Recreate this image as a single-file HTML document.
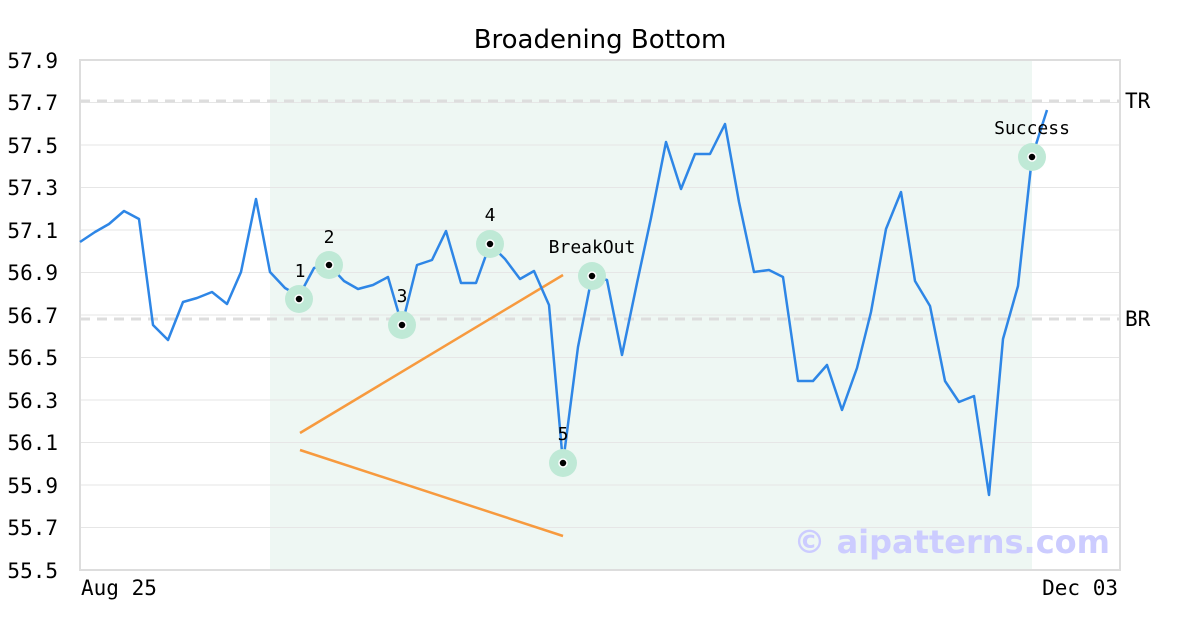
<!DOCTYPE html>
<html><head><meta charset="utf-8"><style>body{margin:0;background:#fff}</style></head><body>
<svg width="1200" height="630" xmlns="http://www.w3.org/2000/svg">
<rect width="1200" height="630" fill="#fff"/>
<rect x="270" y="60" width="762" height="510" fill="#eef7f3"/>
<g stroke="#e6e6e6" stroke-width="1">
<line x1="80" x2="1120" y1="102.5" y2="102.5"/><line x1="80" x2="1120" y1="145" y2="145"/><line x1="80" x2="1120" y1="187.5" y2="187.5"/><line x1="80" x2="1120" y1="230" y2="230"/><line x1="80" x2="1120" y1="272.5" y2="272.5"/><line x1="80" x2="1120" y1="315" y2="315"/><line x1="80" x2="1120" y1="357.5" y2="357.5"/><line x1="80" x2="1120" y1="400" y2="400"/><line x1="80" x2="1120" y1="442.5" y2="442.5"/><line x1="80" x2="1120" y1="485" y2="485"/><line x1="80" x2="1120" y1="527.5" y2="527.5"/>
</g>
<line x1="80" x2="1120" y1="101" y2="101" stroke="#ddd" stroke-width="3" stroke-dasharray="10,7"/>
<line x1="80" x2="1120" y1="319" y2="319" stroke="#ddd" stroke-width="3" stroke-dasharray="10,7"/>
<rect x="80" y="60" width="1040" height="510" fill="none" stroke="#ddd" stroke-width="2"/>
<g stroke="#f79a3e" stroke-width="2.5"><line x1="300" y1="433" x2="563" y2="275"/><line x1="300" y1="450" x2="563" y2="536"/></g>
<polyline fill="none" stroke="#2e86e6" stroke-width="2.5" stroke-linejoin="round" points="80,242 95,232 109,224 124,211 139,219 153,325 168,340 183,302 197,298 212,292 227,304 241,272 256,199 270,272 285,288 299,296 314,268 329,265 344,281 358,289 373,285 388,277 402,325 417,265 432,260 446,231 461,283 476,283 490,244 505,259 520,279 534,271 549,305 563,463 578,347 592,276 607,280 622,355 637,283 651,218 666,142 681,189 695,154 710,154 725,124 739,202 754,272 769,270 783,277 798,381 813,381 827,365 842,410 857,368 871,312 886,229 901,192 915,281 930,306 945,381 959,402 974,396 989,495 1003,339 1018,286 1032,157 1047,110"/>
<g fill="#bfe9d6"><circle cx="299" cy="299" r="14"/><circle cx="329" cy="265" r="14"/><circle cx="402" cy="325" r="14"/><circle cx="490" cy="244" r="14"/><circle cx="563" cy="463" r="14"/><circle cx="592" cy="276" r="14"/><circle cx="1032" cy="157" r="14"/></g>
<g fill="#000" stroke="#fff" stroke-width="1.5"><circle cx="299" cy="299" r="4"/><circle cx="329" cy="265" r="4"/><circle cx="402" cy="325" r="4"/><circle cx="490" cy="244" r="4"/><circle cx="563" cy="463" r="4"/><circle cx="592" cy="276" r="4"/><circle cx="1032" cy="157" r="4"/></g>
<g font-family="DejaVu Sans Mono, Liberation Mono, monospace" font-size="18" fill="#000" text-anchor="middle">
<text x="300" y="277">1</text><text x="329" y="243">2</text><text x="402" y="302">3</text><text x="490" y="221">4</text><text x="563" y="440">5</text><text x="592" y="253">BreakOut</text><text x="1032" y="134">Success</text></g>
<g font-family="DejaVu Sans Mono, Liberation Mono, monospace" font-size="21" fill="#000">
<g text-anchor="end"><text x="58" y="68">57.9</text><text x="58" y="110">57.7</text><text x="58" y="153">57.5</text><text x="58" y="195">57.3</text><text x="58" y="238">57.1</text><text x="58" y="280">56.9</text><text x="58" y="323">56.7</text><text x="58" y="365">56.5</text><text x="58" y="408">56.3</text><text x="58" y="450">56.1</text><text x="58" y="493">55.9</text><text x="58" y="535">55.7</text><text x="58" y="578">55.5</text></g>
<text x="81" y="595">Aug 25</text><text x="1118" y="595" text-anchor="end">Dec 03</text>
<text x="1125" y="108">TR</text><text x="1125" y="326">BR</text></g>
<text x="600" y="48" text-anchor="middle" font-family="DejaVu Sans, Liberation Sans, sans-serif" font-size="26">Broadening Bottom</text>
<text x="1110" y="553" text-anchor="end" font-family="DejaVu Sans, Liberation Sans, sans-serif" font-size="32" font-weight="bold" fill="#ccccff">© aipatterns.com</text>
</svg></body></html>
